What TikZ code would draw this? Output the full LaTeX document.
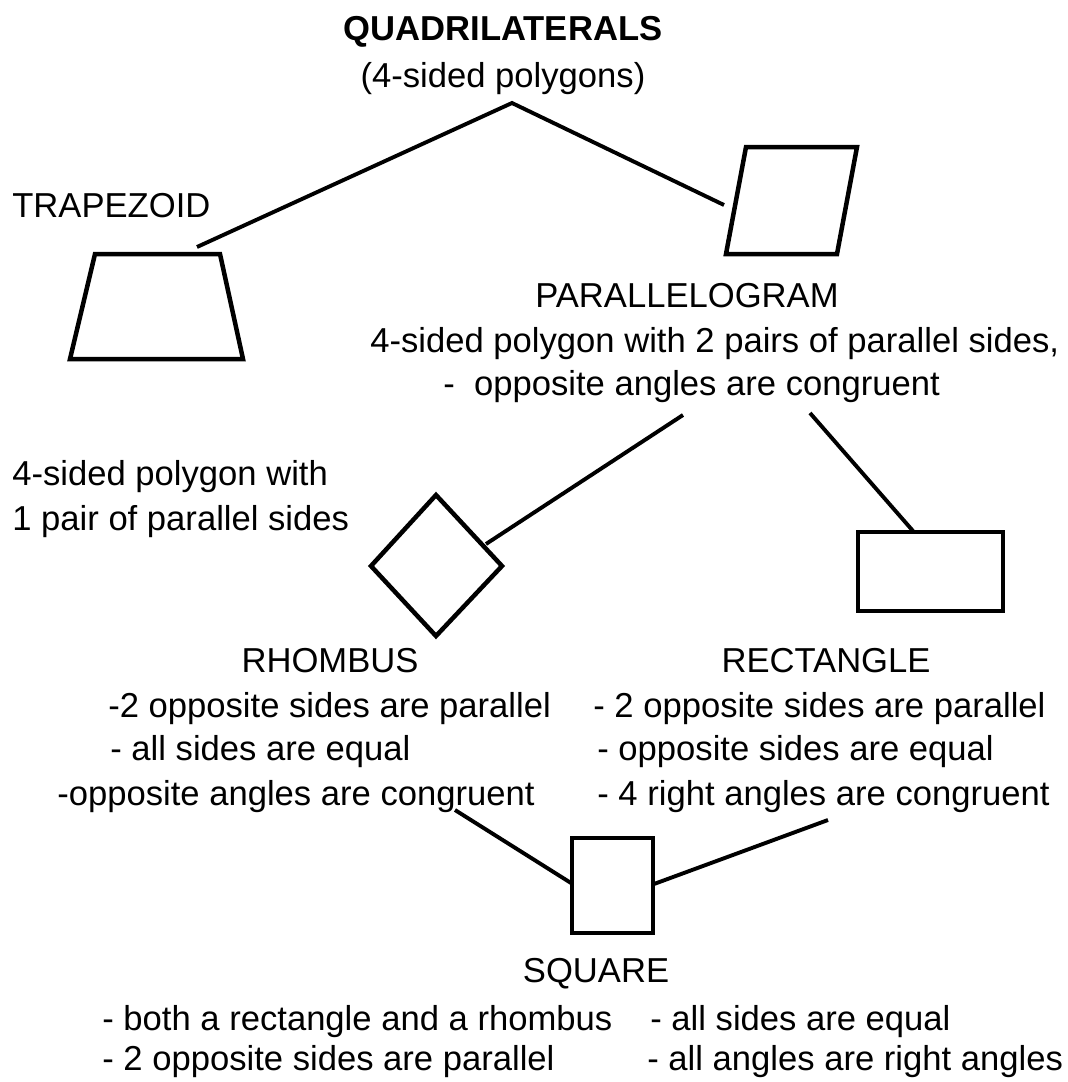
\documentclass[tikz,border=0pt]{standalone}
\usepackage{fontspec}
\setmainfont{Liberation Sans}
\begin{document}
\begin{tikzpicture}[
    x=0.02cm, y=-0.02cm,
    txt/.style={font=\fontsize{19.7}{24}\selectfont, inner sep=0pt, anchor=base west},
    title/.style={txt, anchor=base},
    outline/.style={black, line width=0.09cm, line join=miter},
    link/.style={black, line width=0.078cm},
]
    \useasboundingbox (0,0) rectangle (1068,1082);
    % headings
    \node[title, font=\fontsize{19.7}{24}\selectfont\bfseries] (quad) at (503, 40) {QUADRILATERALS};
    \node[title] (quadsub) at (503, 87) {(4-sided polygons)};
    \node[txt] (trap) at (12, 217) {TRAPEZOID};
    \node[title] (para) at (687, 307) {PARALLELOGRAM};
    \node[title] (rhom) at (330, 672) {RHOMBUS};
    \node[title] (rect) at (826, 672) {RECTANGLE};
    \node[title] (sq) at (596, 982) {SQUARE};

    % description lines
    \foreach \nm/\x/\y/\lbl in {%
        paraA/370/352/{4-sided polygon with 2 pairs of parallel sides,},%
        paraB/443/395/{-\ \ opposite angles are congruent},%
        trapA/12/485/{4-sided polygon with},%
        trapB/12/530/{1 pair of parallel sides},%
        rhomA/108/717/{-2 opposite sides are parallel},%
        rhomB/110/760/{- all sides are equal},%
        rhomC/57/805/{-opposite angles are congruent},%
        rectA/593/717/{- 2 opposite sides are parallel},%
        rectB/597/760/{- opposite sides are equal},%
        rectC/597/805/{- 4 right angles are congruent},%
        sqA/102/1030/{- both a rectangle and a rhombus},%
        sqB/102/1070/{- 2 opposite sides are parallel},%
        sqC/650/1030/{- all sides are equal},%
        sqD/647/1070/{- all angles are right angles}%
    }{
        \node[txt] (\nm) at (\x, \y) {\lbl};
    }

    % shapes
    \draw[outline] (95,254) -- (220,254) -- (243,359) -- (70,359) -- cycle;
    \draw[outline] (746,147) -- (857,147) -- (837,254) -- (726,254) -- cycle;
    \draw[outline] (436,495) -- (502,566) -- (436,636) -- (371,566) -- cycle;
    \draw[outline] (858,532) rectangle (1003,611);
    \draw[outline] (572,838) rectangle (653,933);

    % connector ends
    \coordinate (apex) at (512,103);
    \coordinate (trapend) at (197,247);
    \coordinate (paraend) at (724,205);
    \coordinate (paralo) at (683,415);
    \coordinate (parari) at (810,413);
    \coordinate (rhomend) at (486,544);
    \coordinate (rectend) at (913,531);
    \coordinate (rhomlo) at (455,810);
    \coordinate (rectlo) at (828,820);
    \coordinate (sqleft) at (571,883);
    \coordinate (sqright) at (654,884);

    \draw[link] (trapend) -- (apex) -- (paraend);
    \draw[link] (paralo) -- (rhomend);
    \draw[link] (parari) -- (rectend);
    \draw[link] (rhomlo) -- (sqleft);
    \draw[link] (rectlo) -- (sqright);
\end{tikzpicture}
\end{document}
